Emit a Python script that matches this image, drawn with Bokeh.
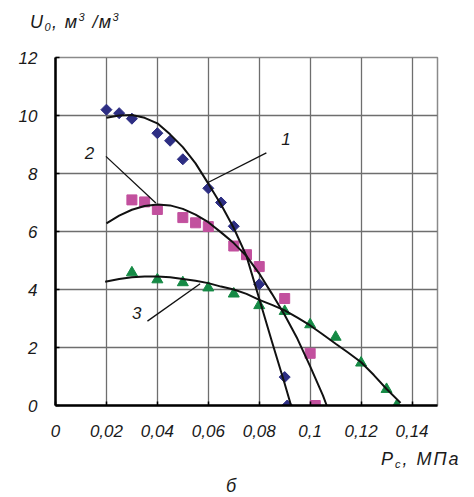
from bokeh.plotting import figure
from bokeh.models import Range1d, FixedTicker, Div
from bokeh.layouts import column
from bokeh.core.properties import value
from bokeh.embed import file_html
from bokeh.resources import INLINE
import math

# ---- data ----
p1 = [0.020, 0.025, 0.030, 0.040, 0.045, 0.050, 0.060, 0.065, 0.070, 0.080, 0.090, 0.091]
u1 = [10.2, 10.08, 9.89, 9.39, 9.13, 8.49, 7.49, 7.0, 6.18, 4.18, 0.98, 0.0]

p2 = [0.030, 0.035, 0.040, 0.050, 0.055, 0.060, 0.070, 0.075, 0.080, 0.090, 0.100, 0.102]
u2 = [7.09, 7.02, 6.76, 6.48, 6.30, 6.17, 5.50, 5.20, 4.79, 3.69, 1.80, 0.0]

p3 = [0.030, 0.040, 0.050, 0.060, 0.070, 0.080, 0.090, 0.100, 0.110, 0.120, 0.130, 0.134]
u3 = [4.58, 4.34, 4.24, 4.06, 3.85, 3.45, 3.25, 2.79, 2.36, 1.47, 0.56, 0.0]

# trend curves
c1_p = [0.020, 0.025, 0.030, 0.035, 0.040, 0.045, 0.050, 0.055, 0.060, 0.065, 0.070, 0.075, 0.080, 0.085, 0.090, 0.0925]
c1_u = [9.92, 10.0, 10.02, 9.92, 9.73, 9.35, 8.91, 8.35, 7.65, 6.93, 6.12, 5.15, 3.68, 2.2, 0.75, 0.0]

c2_p = [0.020, 0.025, 0.030, 0.035, 0.040, 0.045, 0.050, 0.055, 0.060, 0.065, 0.070, 0.075, 0.080, 0.085, 0.090, 0.095, 0.100, 0.105, 0.1065]
c2_u = [6.28, 6.55, 6.75, 6.88, 6.93, 6.90, 6.78, 6.58, 6.32, 5.97, 5.60, 5.15, 4.55, 3.85, 3.12, 2.30, 1.35, 0.35, 0.0]

c3_p = [0.0195, 0.025, 0.030, 0.035, 0.040, 0.045, 0.050, 0.055, 0.060, 0.065, 0.070, 0.075, 0.080, 0.085, 0.090, 0.095, 0.100, 0.105, 0.110, 0.115, 0.120, 0.125, 0.130, 0.1355]
c3_u = [4.27, 4.36, 4.42, 4.45, 4.45, 4.42, 4.36, 4.30, 4.22, 4.10, 4.00, 3.85, 3.64, 3.47, 3.28, 3.03, 2.76, 2.45, 2.13, 1.82, 1.49, 1.05, 0.57, 0.09]

# curve labels and leader lines
curve_names = ["1", "2", "3"]
name_p = [0.0905, 0.0133, 0.0319]
name_u = [9.18, 8.69, 3.19]
lead_p0 = [0.0597, 0.0198, 0.0361]
lead_u0 = [7.68, 8.59, 2.91]
lead_p1 = [0.0828, 0.0394, 0.0568]
lead_u1 = [8.71, 6.98, 4.20]

x_ticks = [0, 0.02, 0.04, 0.06, 0.08, 0.10, 0.12, 0.14]
x_tick_labels = ["0", "0,02", "0,04", "0,06", "0,08", "0,1", "0,12", "0,14"]
y_ticks = [0, 2, 4, 6, 8, 10, 12]
y_tick_labels = ["0", "2", "4", "6", "8", "10", "12"]

FONT = "Liberation Sans"
C1 = "#2D2E83"
C2 = "#C2509E"
C3 = "#158A45"
GRID = "#6E6E6E"
W = 466

p = figure(width=W, height=402, output_backend="svg", toolbar_location=None,
           x_range=Range1d(0, 0.15), y_range=Range1d(0, 12),
           min_border_left=55, min_border_right=29, min_border_top=17, min_border_bottom=37,
           margin=(0, 0, 0, 0))
p.title.visible = False
p.background_fill_color = "white"
p.border_fill_color = "white"
p.outline_line_color = "#8a8a8a"
p.outline_line_width = 1.5

p.xaxis.ticker = FixedTicker(ticks=x_ticks)
p.yaxis.ticker = FixedTicker(ticks=y_ticks)
p.xaxis.major_label_overrides = {t: l for t, l in zip(x_ticks, x_tick_labels)}
p.yaxis.major_label_overrides = {t: l for t, l in zip(y_ticks, y_tick_labels)}
for ax in (p.xaxis, p.yaxis):
    ax.axis_line_color = "black"
    ax.axis_line_width = 2.5
    ax.major_tick_in = 4
    ax.major_tick_out = 0
    ax.major_tick_line_color = "black"
    ax.major_tick_line_width = 1.5
    ax.minor_tick_line_color = None
    ax.major_label_text_font = FONT
    ax.major_label_text_font_style = "italic"
    ax.major_label_text_font_size = "17px"
    ax.major_label_text_color = "#1a1a1a"
p.xaxis.major_label_standoff = 19
p.yaxis.major_label_standoff = 18

p.xgrid.grid_line_color = GRID
p.ygrid.grid_line_color = GRID
p.xgrid.grid_line_width = 1.3
p.ygrid.grid_line_width = 1.3

# markers
p.scatter(p1, u1, marker="square", angle=math.pi / 4, size=7.8, fill_color=C1, line_color=C1)
p.scatter(p2, u2, marker="square", size=10, fill_color=C2, line_color=C2)
p.scatter(p3, u3, marker="triangle", size=11, fill_color=C3, line_color=C3)

# trend curves
for cx, cy in ((c1_p, c1_u), (c2_p, c2_u), (c3_p, c3_u)):
    p.line(cx, cy, line_color="#111111", line_width=2)

# leaders and curve numbers
p.segment(x0=lead_p0, y0=lead_u0, x1=lead_p1, y1=lead_u1, line_color="#111111", line_width=1.3)
p.text(x=name_p, y=name_u, text=curve_names, text_font=value(FONT),
       text_font_size="17px", text_font_style="italic", text_align="center",
       text_baseline="middle", text_color="#1a1a1a")

TXT = ("position:absolute;white-space:nowrap;font-family:'Liberation Sans';"
       "font-style:italic;font-size:18px;line-height:1;color:#1a1a1a;")
SUB = "font-size:11px;line-height:0;vertical-align:-3px;"
SUP = "font-size:11px;line-height:0;vertical-align:7px;"

title_html = (
    f'<div style="position:relative;width:{W}px;height:40px;">'
    f'<span style="{TXT}letter-spacing:1.4px;left:30px;top:13px;">U<span style="{SUB}">0</span>, м<span style="{SUP}">3</span> /м<span style="{SUP}">3</span></span>'
    '</div>'
)
bottom_html = (
    f'<div style="position:relative;width:{W}px;height:55px;">'
    f'<span style="{TXT}letter-spacing:2px;left:381px;top:8px;">P<span style="{SUB}">c</span>, МПа</span>'
    f'<span style="{TXT}left:226px;top:35px;">б</span>'
    '</div>'
)
title_div = Div(text=title_html, width=W, height=40, margin=(0, 0, 0, 0))
bottom_div = Div(text=bottom_html, width=W, height=55, margin=(0, 0, 0, 0))

layout = column(title_div, p, bottom_div, spacing=0, margin=(0, 0, 0, 0))

open("out.html", "w").write(file_html(layout, INLINE))
